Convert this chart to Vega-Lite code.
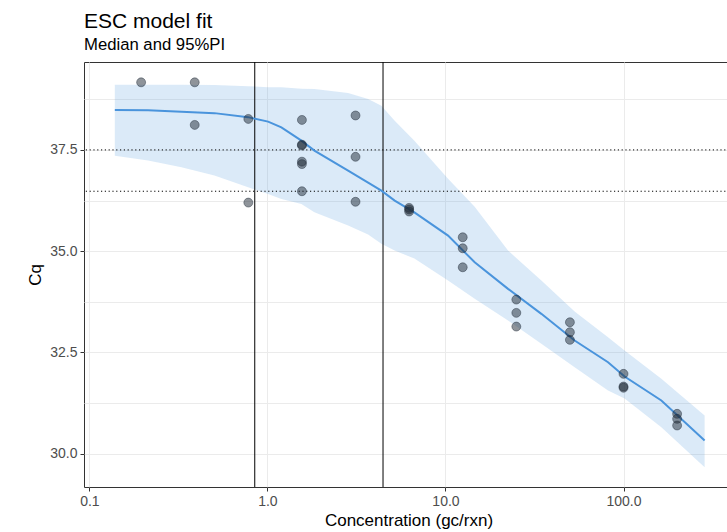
{
  "$schema": "https://vega.github.io/schema/vega-lite/v6.json",
  "autosize": {"type": "none"},
  "padding": {"left": 84, "top": 62, "right": 0, "bottom": 45},
  "width": 649,
  "height": 425,
  "background": "white",
  "config": {
    "font": "Liberation Sans",
    "view": {"stroke": "#333333", "strokeWidth": 1},
    "axis": {"domain": false, "gridColor": "#EBEBEB", "gridWidth": 1, "tickColor": "#333333", "tickSize": 4, "labelColor": "#4D4D4D", "labelFontSize": 14, "titleColor": "#000000", "titleFontSize": 17, "titleFontWeight": "normal", "labelFont": "Liberation Sans", "titleFont": "Liberation Sans"}
  },
  "title": {
    "text": "ESC model fit",
    "subtitle": "Median and 95%PI",
    "anchor": "start",
    "frame": "group",
    "font": "Liberation Sans",
    "fontSize": 21,
    "fontWeight": "normal",
    "color": "#000000",
    "subtitleFont": "Liberation Sans",
    "subtitleFontSize": 16.7,
    "subtitleColor": "#000000",
    "subtitlePadding": 5,
    "offset": 8
  },
  "datasets": {
    "fit": [
      {"conc": 0.139, "med": 38.487, "lo": 37.359, "hi": 39.111},
      {"conc": 0.2138, "med": 38.482, "lo": 37.236, "hi": 39.111},
      {"conc": 0.329, "med": 38.445, "lo": 37.071, "hi": 39.111},
      {"conc": 0.504, "med": 38.408, "lo": 36.866, "hi": 39.104},
      {"conc": 0.779, "med": 38.309, "lo": 36.577, "hi": 39.074},
      {"conc": 1.009, "med": 38.198, "lo": 36.414, "hi": 39.049},
      {"conc": 1.198, "med": 38.058, "lo": 36.291, "hi": 39.045},
      {"conc": 1.552, "med": 37.729, "lo": 36.168, "hi": 39.012},
      {"conc": 1.836, "med": 37.483, "lo": 35.960, "hi": 39.005},
      {"conc": 2.839, "med": 36.989, "lo": 35.632, "hi": 38.906},
      {"conc": 3.677, "med": 36.693, "lo": 35.410, "hi": 38.758},
      {"conc": 4.366, "med": 36.496, "lo": 35.181, "hi": 38.593},
      {"conc": 5.186, "med": 36.249, "lo": 35.015, "hi": 38.223},
      {"conc": 6.689, "med": 35.960, "lo": 34.818, "hi": 37.729},
      {"conc": 10.34, "med": 35.385, "lo": 34.275, "hi": 36.790},
      {"conc": 14.59, "med": 34.727, "lo": 33.824, "hi": 36.100},
      {"conc": 22.46, "med": 34.070, "lo": 33.288, "hi": 35.015},
      {"conc": 34.56, "med": 33.454, "lo": 32.713, "hi": 34.275},
      {"conc": 53.14, "med": 32.795, "lo": 32.136, "hi": 33.510},
      {"conc": 81.85, "med": 32.259, "lo": 31.561, "hi": 32.876},
      {"conc": 101.4, "med": 31.907, "lo": 31.364, "hi": 32.547},
      {"conc": 163.1, "med": 31.315, "lo": 30.656, "hi": 31.850},
      {"conc": 285.4, "med": 30.328, "lo": 29.669, "hi": 30.944}
    ],
    "obs": [
      {"conc": 0.1953, "cq": 39.168},
      {"conc": 0.3906, "cq": 39.168},
      {"conc": 0.3906, "cq": 38.117},
      {"conc": 0.78125, "cq": 38.265},
      {"conc": 0.78125, "cq": 36.20},
      {"conc": 1.5625, "cq": 38.24},
      {"conc": 1.5625, "cq": 37.63},
      {"conc": 1.5625, "cq": 37.61},
      {"conc": 1.5625, "cq": 37.21},
      {"conc": 1.5625, "cq": 37.15},
      {"conc": 1.5625, "cq": 36.48},
      {"conc": 3.125, "cq": 38.35},
      {"conc": 3.125, "cq": 37.33},
      {"conc": 3.125, "cq": 36.22},
      {"conc": 6.25, "cq": 36.07},
      {"conc": 6.25, "cq": 36.03},
      {"conc": 6.25, "cq": 35.98},
      {"conc": 12.5, "cq": 35.344},
      {"conc": 12.5, "cq": 35.072},
      {"conc": 12.5, "cq": 34.603},
      {"conc": 25, "cq": 33.806},
      {"conc": 25, "cq": 33.478},
      {"conc": 25, "cq": 33.14},
      {"conc": 50, "cq": 33.246},
      {"conc": 50, "cq": 33.0},
      {"conc": 50, "cq": 32.812},
      {"conc": 100, "cq": 31.973},
      {"conc": 100, "cq": 31.66},
      {"conc": 100, "cq": 31.63},
      {"conc": 200, "cq": 30.986},
      {"conc": 200, "cq": 30.863},
      {"conc": 200, "cq": 30.698}
    ],
    "vlines": [{"conc": 0.849}, {"conc": 4.46}],
    "hlines": [{"cq": 37.5}, {"cq": 36.48}]
  },
  "layer": [
    {
      "data": {"name": "fit"},
      "mark": {"type": "area", "color": "#4A94DC", "opacity": 0.2},
      "encoding": {
        "x": {"field": "conc", "type": "quantitative",
              "scale": {"type": "log", "domain": [0.0933, 412], "nice": false, "zero": false},
              "axis": {"title": "Concentration (gc/rxn)", "values": [0.1, 1, 10, 100], "labelExpr": "format(datum.value, '.1f')", "labelPadding": 3, "titlePadding": 4}},
        "y": {"field": "lo", "type": "quantitative",
              "scale": {"domain": [29.18, 39.67], "nice": false, "zero": false},
              "axis": {"title": "Cq", "values": [30, 31.25, 32.5, 33.75, 35, 36.25, 37.5, 38.75],
                       "labelExpr": "datum.value % 2.5 == 0 ? format(datum.value, '.1f') : ''",
                       "tickOpacity": {"condition": {"test": "datum.value % 2.5 != 0", "value": 0}, "value": 1},
                       "labelPadding": 3, "titlePadding": 5}},
        "y2": {"field": "hi"}
      }
    },
    {
      "data": {"name": "vlines"},
      "mark": {"type": "rule", "color": "#000000", "strokeWidth": 1},
      "encoding": {"x": {"field": "conc", "type": "quantitative"}}
    },
    {
      "data": {"name": "hlines"},
      "mark": {"type": "rule", "color": "#000000", "strokeWidth": 1, "strokeDash": [1.2, 2.6]},
      "encoding": {"y": {"field": "cq", "type": "quantitative"}}
    },
    {
      "data": {"name": "fit"},
      "mark": {"type": "line", "color": "#4A94DC", "strokeWidth": 2},
      "encoding": {
        "x": {"field": "conc", "type": "quantitative"},
        "y": {"field": "med", "type": "quantitative"}
      }
    },
    {
      "data": {"name": "obs"},
      "mark": {"type": "point", "shape": "circle", "filled": true, "size": 80, "color": "#1F2A36", "fillOpacity": 0.5, "stroke": "#1F2A36", "strokeOpacity": 0.55, "strokeWidth": 0.8},
      "encoding": {
        "x": {"field": "conc", "type": "quantitative"},
        "y": {"field": "cq", "type": "quantitative"}
      }
    }
  ]
}
